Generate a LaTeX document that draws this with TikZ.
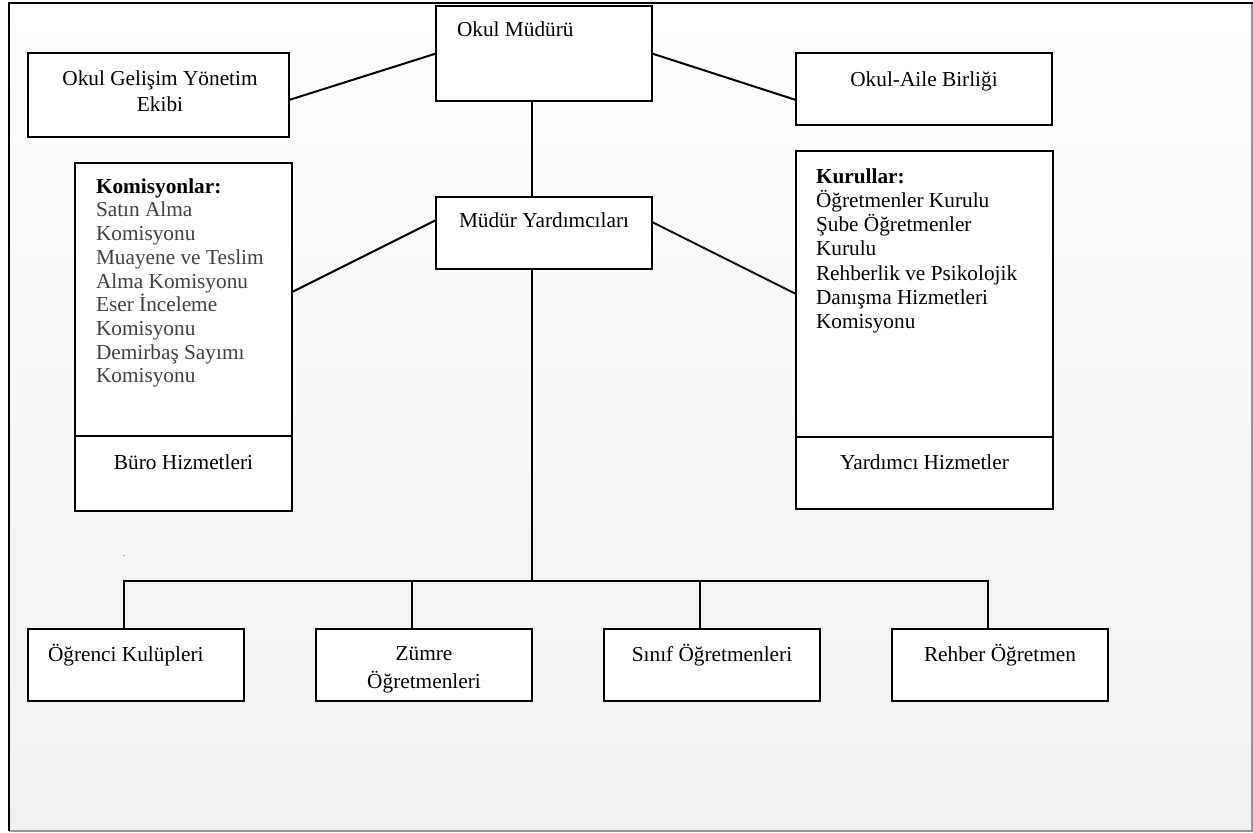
\documentclass[tikz,border=0pt]{standalone}
\usepackage{fontspec}
\setmainfont{Liberation Serif}
\usetikzlibrary{calc}
\definecolor{bgbot}{RGB}{240,240,240}
\definecolor{itemgray}{RGB}{64,64,64}
\definecolor{framegray}{RGB}{150,150,150}
\begin{document}
\begin{tikzpicture}[x=0.5pt,y=-0.5pt,
  box/.style={draw, line width=1pt, fill=white, inner sep=0pt, outer sep=0pt, anchor=north west},
  lbl/.style={inner sep=0pt, outer sep=0pt, font=\fontsize{10.65}{13}\selectfont},
  conn/.style={line width=1pt}]
\useasboundingbox (0,0) rectangle (1253,832);
% background and frame
\fill[white] (0,0) rectangle (1253,832);
\shade[top color=white, bottom color=bgbot] (9,3.3) rectangle (1252,831);
\draw[framegray, line width=1pt] (9,831) -- (1252,831) -- (1252,3.3);
\draw[line width=1pt] (9,831) -- (9,3.3) -- (1253,3.3);

% boxes
\node[box, minimum width=108pt, minimum height=47.5pt] (om) at (436,6) {};
\node[box, minimum width=130.5pt, minimum height=42pt] (og) at (28,53) {};
\node[box, minimum width=128pt, minimum height=36pt] (oa) at (796,53) {};
\node[box, minimum width=108pt, minimum height=36pt] (my) at (436,197) {};
\node[box, minimum width=108.5pt, minimum height=136.5pt] (kom) at (75,163) {};
\node[box, minimum width=108.5pt, minimum height=37.5pt] (buro) at (75,436) {};
\node[box, minimum width=128.5pt, minimum height=143pt] (kur) at (796,151) {};
\node[box, minimum width=128.5pt, minimum height=36pt] (yard) at (796,437) {};
\node[box, minimum width=108pt, minimum height=36pt] (b1) at (28,629) {};
\node[box, minimum width=108pt, minimum height=36pt] (b2) at (316,629) {};
\node[box, minimum width=108pt, minimum height=36pt] (b3) at (604,629) {};
\node[box, minimum width=108pt, minimum height=36pt] (b4) at (892,629) {};

% texts
\node[lbl, anchor=base west] (tom) at (457,36) {Okul Müdürü};
\node[lbl, anchor=north, align=center, font=\fontsize{10.65}{13.35}\selectfont] (tog) at (160,70.5) {Okul Gelişim Yönetim\\Ekibi};
\node[lbl, anchor=base] (toa) at (924,86) {Okul-Aile Birliği};
\node[lbl, anchor=base] (tmy) at (544,227) {Müdür Yardımcıları};
\node[lbl, anchor=north west, align=left, text=itemgray, font=\fontsize{10.65}{11.85}\selectfont] (tkom) at (96,178.5)
  {\textcolor{black}{\textbf{Komisyonlar:}}\\Satın Alma\\Komisyonu\\Muayene ve Teslim\\Alma Komisyonu\\Eser İnceleme\\Komisyonu\\Demirbaş Sayımı\\Komisyonu};
\node[lbl, anchor=north west, align=left, font=\fontsize{10.65}{12.1}\selectfont] (tkur) at (816,168.5)
  {\textbf{Kurullar:}\\Öğretmenler Kurulu\\Şube Öğretmenler\\Kurulu\\Rehberlik ve Psikolojik\\Danışma Hizmetleri\\Komisyonu};
\node[lbl, anchor=base] (tburo) at (183.5,469) {Büro Hizmetleri};
\node[lbl, anchor=base] (tyard) at (924.5,469) {Yardımcı Hizmetler};
\node[lbl, anchor=base west] (tb1) at (48,661) {Öğrenci Kulüpleri};
\node[lbl, anchor=north, align=center, font=\fontsize{10.65}{13.7}\selectfont] (tb2) at (424,647) {Zümre\\Öğretmenleri};
\node[lbl, anchor=base] (tb3) at (712,661) {Sınıf Öğretmenleri};
\node[lbl, anchor=base] (tb4) at (1000,661) {Rehber Öğretmen};
\node[inner sep=0pt, font=\fontsize{4}{4}\selectfont] (dot) at (124,556) {.};

% connectors
\coordinate (bus) at (532,580.7);
\draw[conn] ([yshift=-2.5pt]og.east) -- (om.west);
\draw[conn] (om.east) -- ([yshift=-5.5pt]oa.west);
\draw[conn] ([yshift=6.5pt]my.west) -- ([yshift=3.75pt]kom.east);
\draw[conn] ([yshift=5.5pt]my.east) -- (kur.west);
\draw[conn] ([xshift=-6pt]om.south) -- ([xshift=-6pt]my.north);
\draw[conn] ([xshift=-6pt]my.south) -- (bus);
\draw[conn] ([xshift=-6pt]b1.north) |- (bus) -| ([xshift=-6pt]b4.north);
\draw[conn] ([xshift=-6pt]b2.north) |- (bus);
\draw[conn] ([xshift=-6pt]b3.north) |- (bus);
\end{tikzpicture}
\end{document}
